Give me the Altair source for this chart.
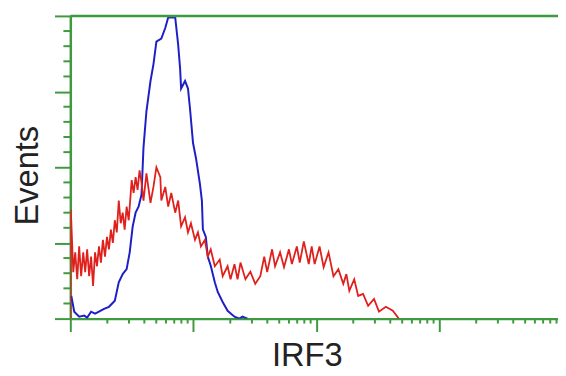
import altair as alt
import pandas as pd

# Blue histogram (isotype control): log10 intensity and event counts
blue_log = [0.008, 0.032, 0.072, 0.113, 0.137, 0.169, 0.201, 0.233, 0.274, 0.314,
            0.362, 0.394, 0.426, 0.458, 0.483, 0.507, 0.531, 0.555, 0.579, 0.595,
            0.619, 0.652, 0.676, 0.700, 0.740, 0.772, 0.796, 0.853, 0.877, 0.893,
            0.901, 0.933, 0.957, 0.973, 0.998, 1.022, 1.054, 1.070, 1.078, 1.102,
            1.118, 1.142, 1.175, 1.199, 1.239, 1.279, 1.335, 1.376, 1.400, 1.440]
blue_cnt = [15, 4.6, 1.3, 2, 0.7, 4.6, 3.3, 4.6, 6.5, 7.8,
            11.8, 24, 29.4, 32.7, 43.8, 60.8, 70, 74, 82, 113,
            137, 157, 168, 183, 185, 192, 199, 199, 181, 165,
            152, 157, 152, 139, 116, 106, 89, 78, 59, 54,
            41, 35, 24, 17.6, 11, 5.2, 1.3, 0, 1.3, 0]

# Red histogram (IRF3 stained)
red_log = [0.000, 0.004, 0.024, 0.040, 0.056, 0.072, 0.088, 0.105, 0.121, 0.137,
           0.153, 0.169, 0.185, 0.201, 0.217, 0.233, 0.249, 0.265, 0.282, 0.298,
           0.314, 0.330, 0.346, 0.362, 0.378, 0.394, 0.410, 0.426, 0.442, 0.458,
           0.475, 0.499, 0.515, 0.531, 0.547, 0.563, 0.579, 0.595, 0.619, 0.652,
           0.676, 0.700, 0.732, 0.740, 0.772, 0.796, 0.821, 0.853, 0.877, 0.901,
           0.933, 0.957, 0.981, 1.014, 1.038, 1.062, 1.094, 1.118, 1.142, 1.175,
           1.215, 1.239, 1.279, 1.303, 1.335, 1.360, 1.384, 1.424, 1.464, 1.504,
           1.545, 1.577, 1.601, 1.641, 1.665, 1.706, 1.738, 1.778, 1.802, 1.842,
           1.866, 1.899, 1.939, 1.963, 1.987, 2.027, 2.060, 2.100, 2.140, 2.180,
           2.220, 2.245, 2.269, 2.309, 2.341, 2.381, 2.422, 2.470, 2.510, 2.566,
           2.623, 2.671]
red_cnt = [0, 72, 30.7, 43.8, 26, 47.7, 28, 43.8, 30.7, 45.8,
           28, 41, 21.6, 43.8, 34.6, 47.7, 37, 52, 41, 54,
           45.8, 58.8, 50, 65, 57, 78, 63, 70, 58.8, 74,
           65, 91.5, 83, 93.5, 85, 98, 90, 78, 96, 76.5,
           87, 100, 93.5, 78, 87, 74, 83, 70, 78, 61,
           67, 57, 63, 52, 57, 47.7, 52, 41, 45.8, 34.6,
           39, 28, 34.6, 26, 36, 26, 37, 26, 31, 23,
           28, 41, 30.7, 45.8, 34.6, 43.8, 34, 45.8, 36, 47.7,
           37, 51, 36, 47.7, 36, 47.7, 34, 43.8, 28, 32.7,
           23, 29.4, 18.3, 26, 15, 16.3, 8.5, 13, 4.6, 7.8,
           5.2, 0]

# Axis tick values
x_major = [1, 10, 100, 1000]
x_minor = [2, 3, 4, 5, 6, 7, 8, 9,
           20, 30, 40, 50, 60, 70, 80, 90,
           200, 300, 400, 500, 600, 700, 800, 900,
           2000, 3000, 4000, 5000, 6000, 7000, 8000, 9000]
y_major = [0, 50, 100, 150, 200]
y_minor = [10, 20, 30, 40, 60, 70, 80, 90, 110, 120, 130, 140, 160, 170, 180, 190]
y_top = [200]

W, H = 493, 306
GREEN = "#3f9a3f"
FONT = "Liberation Sans"

blue = pd.DataFrame({"I": [10 ** v for v in blue_log], "count": blue_cnt})
red = pd.DataFrame({"I": [10 ** v for v in red_log], "count": red_cnt})

xscale = alt.Scale(type="log", domain=[1, 9250], nice=False)
yscale = alt.Scale(domain=[0, 200], nice=False)

x_axis = alt.Axis(values=x_major, labels=False, tickSize=13, tickWidth=2,
                  tickColor=GREEN, domainColor=GREEN, domainWidth=2.5, grid=False,
                  title="IRF3", titleFont=FONT, titleFontSize=33,
                  titleFontWeight="normal", titleColor="#222222",
                  titleX=239, titleY=47, titleBaseline="alphabetic",
                  titleAlign="center")
y_axis = alt.Axis(values=y_major, labels=False, tickSize=16, tickWidth=2,
                  tickColor=GREEN, domainColor=GREEN, domainWidth=2.5, grid=False,
                  title="Events", titleFont=FONT, titleFontSize=33,
                  titleFontWeight="normal", titleColor="#222222",
                  titleX=-33, titleY=161, titleBaseline="alphabetic",
                  titleAlign="center", titleAngle=270)

blue_line = alt.Chart(blue).mark_line(color="#1f1fc8", strokeWidth=2, clip=True).encode(
    x=alt.X("I:Q", scale=xscale, axis=x_axis),
    y=alt.Y("count:Q", scale=yscale, axis=y_axis),
)
red_line = alt.Chart(red).mark_line(color="#e0201c", strokeWidth=1.8, clip=True).encode(
    x=alt.X("I:Q", scale=xscale, axis=x_axis),
    y=alt.Y("count:Q", scale=yscale, axis=y_axis),
)
x_minor_ticks = alt.Chart(pd.DataFrame({"I": x_minor})).mark_rule(
    color=GREEN, strokeWidth=2).encode(
    x=alt.X("I:Q", scale=xscale, axis=x_axis),
    y=alt.value(H), y2=alt.value(H + 5),
)
y_minor_ticks = alt.Chart(pd.DataFrame({"count": y_minor})).mark_rule(
    color=GREEN, strokeWidth=2).encode(
    y=alt.Y("count:Q", scale=yscale, axis=y_axis),
    x=alt.value(-7), x2=alt.value(0),
)
top_line = alt.Chart(pd.DataFrame({"count": y_top})).mark_rule(
    color=GREEN, strokeWidth=2.5).encode(
    y=alt.Y("count:Q", scale=yscale, axis=y_axis),
    x=alt.value(0), x2=alt.value(W),
)

chart = alt.layer(blue_line, red_line, x_minor_ticks, y_minor_ticks, top_line).properties(
    width=W, height=H, autosize="none",
    padding={"left": 63, "top": 6, "right": 0, "bottom": 56},
    background="white",
).configure_view(stroke=None)

chart.save("out.html", embed_options={"renderer": "svg", "actions": False})
